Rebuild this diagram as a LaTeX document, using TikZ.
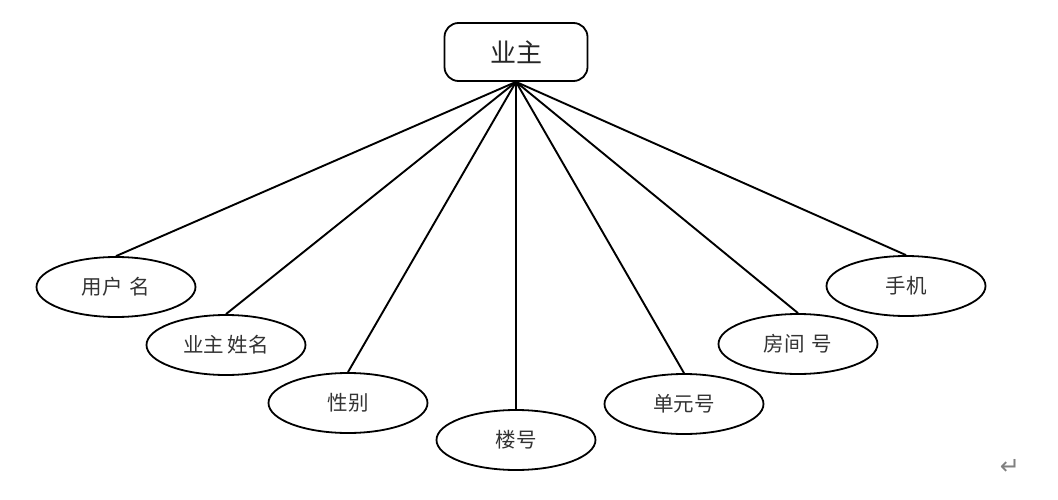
\documentclass[tikz,border=0pt]{standalone}
\usepackage{fontspec}
\newfontfamily\cjk{Noto Sans CJK SC}
\newfontfamily\symfont{DejaVu Sans}
\usetikzlibrary{positioning,shapes.geometric}

\begin{document}
\begin{tikzpicture}[x=1pt,y=-1pt,
  entity/.style={draw,line width=1.8pt,rounded corners=14pt,minimum width=143pt,minimum height=58pt,inner sep=0pt,
    font=\cjk\fontsize{26}{28}\selectfont,text=black!85},
  attr/.style={draw,ellipse,line width=1.8pt,minimum width=159pt,minimum height=60pt,inner sep=0pt,
    font=\cjk\fontsize{20.5}{22}\selectfont,text=black!80},
  link/.style={line width=1.9pt}]
  \useasboundingbox (0,0) rectangle (1058,500);
  \node[entity] (owner) at (516,52) {业主};
  \node[attr] (user) at (116,287) {用户\,\,名};
  \node[attr] (name) at (226,345) {业主\,姓名};
  \node[attr] (sex) at (348,403) {性别};
  \node[attr] (bldg) at (516,440) {楼号};
  \node[attr] (unit) at (684,404) {单元号};
  \node[attr] (room) at (798,344) {房间\,\,号};
  \node[attr] (phone) at (906,286) {手机};
  \foreach \a in {user,name,sex,bldg,unit,room,phone}
    \draw[link] (owner.south) -- (\a.north);
  \node[text=black!50,font=\symfont\fontsize{24}{26}\selectfont] (ret) at (1010,467) {↵};
\end{tikzpicture}
\end{document}
